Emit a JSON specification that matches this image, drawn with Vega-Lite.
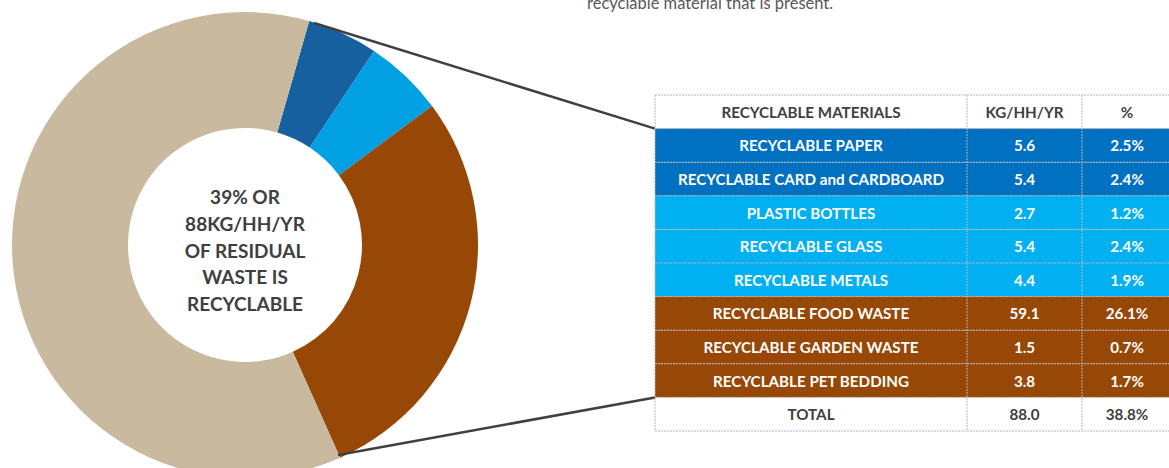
{
  "$schema": "https://vega.github.io/schema/vega-lite/v6.json",
  "width": 1169,
  "height": 468,
  "autosize": {"type": "none"},
  "padding": 0,
  "background": "white",
  "config": {"view": {"stroke": null}, "font": "Lato"},
  "datasets": {
    "waste": [
      {"material": "RECYCLABLE PAPER", "group": "Paper and card", "kg": 5.6, "pct": 0.025},
      {"material": "RECYCLABLE CARD and CARDBOARD", "group": "Paper and card", "kg": 5.4, "pct": 0.024},
      {"material": "PLASTIC BOTTLES", "group": "Plastics, glass and metals", "kg": 2.7, "pct": 0.012},
      {"material": "RECYCLABLE GLASS", "group": "Plastics, glass and metals", "kg": 5.4, "pct": 0.024},
      {"material": "RECYCLABLE METALS", "group": "Plastics, glass and metals", "kg": 4.4, "pct": 0.019},
      {"material": "RECYCLABLE FOOD WASTE", "group": "Organics", "kg": 59.1, "pct": 0.261},
      {"material": "RECYCLABLE GARDEN WASTE", "group": "Organics", "kg": 1.5, "pct": 0.007},
      {"material": "RECYCLABLE PET BEDDING", "group": "Organics", "kg": 3.8, "pct": 0.017},
      {"material": "TOTAL", "group": "Total", "kg": 88.0, "pct": 0.388},
      {"material": "NON-RECYCLABLE RESIDUAL WASTE", "group": "Non-recyclable", "kg": 138.8, "pct": 0.612}
    ]
  },
  "resolve": {"scale": {"color": "independent"}},
  "layer": [
    {
      "data": {"name": "waste"},
      "transform": [
        {"window": [{"op": "row_number", "as": "idx"}]},
        {"filter": "datum.material !== 'TOTAL'"},
        {"aggregate": [{"op": "sum", "field": "pct", "as": "pct"}, {"op": "min", "field": "idx", "as": "idx"}], "groupby": ["group"]}
      ],
      "mark": {"type": "arc", "innerRadius": 117, "outerRadius": 233},
      "encoding": {
        "theta": {"field": "pct", "type": "quantitative", "stack": true, "scale": {"range": [0.2793, 6.5625]}},
        "order": {"field": "idx", "type": "quantitative", "sort": "ascending"},
        "color": {"field": "group", "type": "nominal", "legend": null,
          "scale": {"domain": ["Paper and card", "Plastics, glass and metals", "Organics", "Non-recyclable"],
                    "range": ["#17609F", "#00A0E3", "#974706", "#C9BA9F"]}},
        "x": {"value": 245},
        "y": {"value": 245}
      }
    },
    {
      "data": {"values": [{}]},
      "mark": {"type": "text", "fontWeight": "bold", "fontSize": 19, "color": "#404040", "align": "center", "baseline": "middle", "lineHeight": 26.8},
      "encoding": {
        "text": {"value": ["39% OR", "88KG/HH/YR", "OF RESIDUAL", "WASTE IS", "RECYCLABLE"]},
        "x": {"value": 245},
        "y": {"value": 198}
      }
    },
    {
      "data": {"values": [{}]},
      "mark": {"type": "text", "fontSize": 16.5, "color": "#595959", "align": "left", "baseline": "alphabetic"},
      "encoding": {
        "text": {"value": "recyclable material that is present."},
        "x": {"value": 587},
        "y": {"value": 8.5}
      }
    },
    {
      "data": {"name": "waste"},
      "transform": [{"filter": "datum.group !== 'Non-recyclable'"}],
      "encoding": {
        "y": {"field": "material", "type": "nominal", "axis": null,
          "scale": {"domain": ["HEADER", "RECYCLABLE PAPER", "RECYCLABLE CARD and CARDBOARD", "PLASTIC BOTTLES", "RECYCLABLE GLASS", "RECYCLABLE METALS", "RECYCLABLE FOOD WASTE", "RECYCLABLE GARDEN WASTE", "RECYCLABLE PET BEDDING", "TOTAL"],
                    "range": [95, 431], "paddingInner": 0, "paddingOuter": 0}}
      },
      "layer": [
        {
          "mark": {"type": "rect"},
          "encoding": {
            "x": {"value": 655},
            "x2": {"value": 1175},
            "color": {"field": "group", "type": "nominal", "legend": null,
              "scale": {"domain": ["Paper and card", "Plastics, glass and metals", "Organics", "Total"],
                        "range": ["#0070C0", "#00B0F0", "#974706", "#FFFFFF"]}}
          }
        },
        {
          "mark": {"type": "rule", "color": "#B8B8B8", "strokeWidth": 1, "strokeDash": [2, 1]},
          "encoding": {
            "y": {"field": "material", "type": "nominal", "bandPosition": 0},
            "x": {"value": 655},
            "x2": {"value": 1175}
          }
        },
        {
          "data": {"values": [{"material": "HEADER"}]},
          "mark": {"type": "rule", "color": "#B8B8B8", "strokeWidth": 1, "strokeDash": [2, 1]},
          "encoding": {
            "y": {"field": "material", "type": "nominal", "bandPosition": 0},
            "x": {"value": 655},
            "x2": {"value": 1175}
          }
        },
        {
          "transform": [{"filter": "datum.material === 'TOTAL'"}],
          "mark": {"type": "rule", "color": "#B8B8B8", "strokeWidth": 1, "strokeDash": [2, 1]},
          "encoding": {
            "y": {"field": "material", "type": "nominal", "bandPosition": 1},
            "x": {"value": 655},
            "x2": {"value": 1175}
          }
        },
        {
          "data": {"values": [{"material": "HEADER"}]},
          "mark": {"type": "text", "fontWeight": "bold", "fontSize": 15.2, "color": "#404040", "align": "center", "baseline": "middle", "dy": 1},
          "encoding": {"text": {"value": "RECYCLABLE MATERIALS"}, "x": {"value": 811}}
        },
        {
          "data": {"values": [{"material": "HEADER"}]},
          "mark": {"type": "text", "fontWeight": "bold", "fontSize": 15.2, "color": "#404040", "align": "center", "baseline": "middle", "dy": 1},
          "encoding": {"text": {"value": "KG/HH/YR"}, "x": {"value": 1024.5}}
        },
        {
          "data": {"values": [{"material": "HEADER"}]},
          "mark": {"type": "text", "fontWeight": "bold", "fontSize": 15.2, "color": "#404040", "align": "center", "baseline": "middle", "dy": 1},
          "encoding": {"text": {"value": "%"}, "x": {"value": 1127}}
        },
        {
          "mark": {"type": "text", "fontWeight": "bold", "fontSize": 15.2, "align": "center", "baseline": "middle", "dy": 1},
          "encoding": {
            "text": {"field": "material", "type": "nominal"},
            "x": {"value": 811},
            "color": {"condition": {"test": "datum.group === 'Total'", "value": "#404040"}, "value": "#FFFFFF"}
          }
        },
        {
          "mark": {"type": "text", "fontWeight": "bold", "fontSize": 15.2, "align": "center", "baseline": "middle", "dy": 1},
          "encoding": {
            "text": {"field": "kg", "type": "quantitative", "format": ".1f"},
            "x": {"value": 1024.5},
            "color": {"condition": {"test": "datum.group === 'Total'", "value": "#404040"}, "value": "#FFFFFF"}
          }
        },
        {
          "mark": {"type": "text", "fontWeight": "bold", "fontSize": 15.2, "align": "center", "baseline": "middle", "dy": 1},
          "encoding": {
            "text": {"field": "pct", "type": "quantitative", "format": ".1%"},
            "x": {"value": 1127},
            "color": {"condition": {"test": "datum.group === 'Total'", "value": "#404040"}, "value": "#FFFFFF"}
          }
        },
        {
          "transform": [{"filter": "datum.material === 'RECYCLABLE PAPER'"}],
          "mark": {"type": "rule", "color": "#404040", "strokeWidth": 2.5},
          "encoding": {
            "y": {"field": "material", "type": "nominal", "bandPosition": 0},
            "x": {"value": 655},
            "x2": {"value": 314},
            "y2": {"value": 23}
          }
        },
        {
          "transform": [{"filter": "datum.material === 'RECYCLABLE PET BEDDING'"}],
          "mark": {"type": "rule", "color": "#404040", "strokeWidth": 2.5},
          "encoding": {
            "y": {"field": "material", "type": "nominal", "bandPosition": 1},
            "x": {"value": 655},
            "x2": {"value": 338},
            "y2": {"value": 455}
          }
        }
      ]
    },
    {
      "data": {"values": [{}]},
      "mark": {"type": "rule", "color": "#B8B8B8", "strokeWidth": 1, "strokeDash": [2, 1]},
      "encoding": {"x": {"value": 655}, "y": {"value": 95}, "y2": {"value": 431}}
    },
    {
      "data": {"values": [{}]},
      "mark": {"type": "rule", "color": "#B8B8B8", "strokeWidth": 1, "strokeDash": [2, 1]},
      "encoding": {"x": {"value": 967}, "y": {"value": 95}, "y2": {"value": 431}}
    },
    {
      "data": {"values": [{}]},
      "mark": {"type": "rule", "color": "#B8B8B8", "strokeWidth": 1, "strokeDash": [2, 1]},
      "encoding": {"x": {"value": 1082}, "y": {"value": 95}, "y2": {"value": 431}}
    }
  ]
}
